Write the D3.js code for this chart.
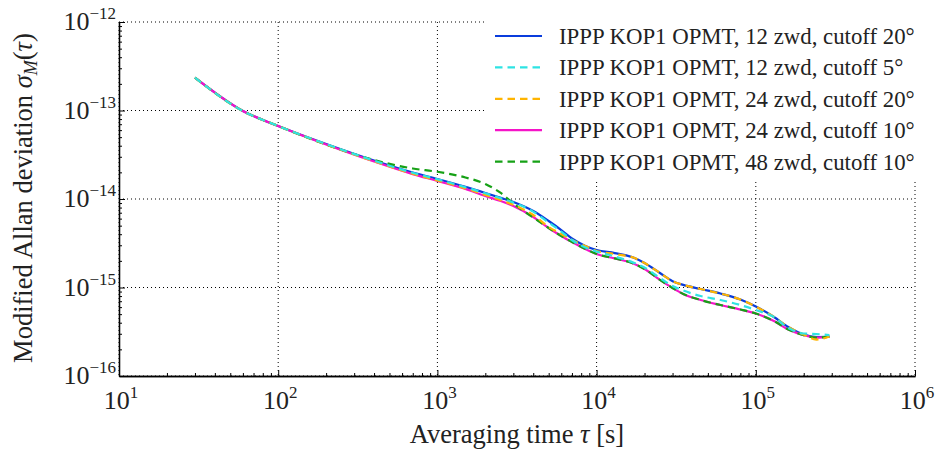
<!DOCTYPE html>
<html><head><meta charset="utf-8">
<script src="https://cdn.jsdelivr.net/npm/d3@7"></script>
<style>body{margin:0;background:#fff;} svg{display:block;}</style>
</head><body>
<svg id="chart" width="936" height="452" font-family="'Liberation Serif', 'DejaVu Serif', 'Times New Roman', serif"></svg>
<script>
const tau = [30, 60, 100, 200, 400, 700, 1000, 1500, 2000, 2500, 3000, 4000, 5000, 6000, 7000, 8500,
  10000, 13000, 17000, 20000, 25000, 30000, 35000, 45000, 60000, 80000, 100000, 130000, 160000, 200000, 240000, 290000];

const blue = [2.35e-13, 9.87e-14, 6.68e-14, 4.18e-14, 2.72e-14, 1.99e-14, 1.68e-14, 1.37e-14, 1.17e-14, 1.03e-14, 9.24e-15, 7.31e-15, 5.64e-15, 4.46e-15, 3.58e-15, 2.95e-15,
  2.65e-15, 2.45e-15, 2.18e-15, 1.89e-15, 1.46e-15, 1.18e-15, 1.07e-15, 9.61e-16, 8.55e-16, 7.31e-16, 6.09e-16, 4.64e-16, 3.58e-16, 2.94e-16, 2.76e-16, 2.79e-16];
const cyan = [2.35e-13, 9.87e-14, 6.68e-14, 4.17e-14, 2.71e-14, 1.98e-14, 1.67e-14, 1.36e-14, 1.16e-14, 1.02e-14, 9.15e-15, 7.20e-15, 5.42e-15, 4.29e-15, 3.44e-15, 2.83e-15,
  2.55e-15, 2.24e-15, 1.91e-15, 1.68e-15, 1.28e-15, 1.04e-15, 9.25e-16, 8.01e-16, 7.23e-16, 6.34e-16, 5.57e-16, 4.64e-16, 3.48e-16, 3.02e-16, 2.98e-16, 2.90e-16];
const orange = [2.35e-13, 9.87e-14, 6.68e-14, 4.14e-14, 2.67e-14, 1.93e-14, 1.62e-14, 1.32e-14, 1.11e-14, 9.70e-15, 8.60e-15, 6.59e-15, 4.83e-15, 4.03e-15, 3.44e-15, 2.95e-15,
  2.58e-15, 2.39e-15, 2.18e-15, 1.89e-15, 1.46e-15, 1.18e-15, 1.07e-15, 9.61e-16, 8.55e-16, 7.31e-16, 6.09e-16, 4.64e-16, 3.58e-16, 2.94e-16, 2.58e-16, 2.79e-16];
const magenta = [2.35e-13, 9.87e-14, 6.68e-14, 4.13e-14, 2.65e-14, 1.91e-14, 1.60e-14, 1.30e-14, 1.08e-14, 9.48e-15, 8.33e-15, 6.26e-15, 4.70e-15, 3.82e-15, 3.27e-15, 2.72e-15,
  2.39e-15, 2.13e-15, 1.87e-15, 1.62e-15, 1.22e-15, 9.87e-16, 8.45e-16, 7.23e-16, 6.34e-16, 5.64e-16, 5.08e-16, 4.18e-16, 3.35e-16, 2.90e-16, 2.72e-16, 2.79e-16];
const green = [2.35e-13, 9.87e-14, 6.68e-14, 4.13e-14, 2.76e-14, 2.21e-14, 2.03e-14, 1.75e-14, 1.48e-14, 1.17e-14, 8.89e-15, 6.18e-15, 4.70e-15, 3.82e-15, 3.27e-15, 2.72e-15,
  2.39e-15, 2.13e-15, 1.87e-15, 1.62e-15, 1.22e-15, 9.87e-16, 8.45e-16, 7.23e-16, 6.34e-16, 5.64e-16, 5.08e-16, 4.18e-16, 3.35e-16, 2.90e-16, 2.72e-16, 2.79e-16];

const seriesNames = ["IPPP KOP1 OPMT, 12 zwd, cutoff 20°", "IPPP KOP1 OPMT, 12 zwd, cutoff 5°", "IPPP KOP1 OPMT, 24 zwd, cutoff 20°",
  "IPPP KOP1 OPMT, 24 zwd, cutoff 10°", "IPPP KOP1 OPMT, 48 zwd, cutoff 10°"];
const xTickExps = [1, 2, 3, 4, 5, 6];
const yTickExps = [-16, -15, -14, -13, -12];

const series = [
  {name: seriesNames[0], values: blue, color: "#0a3cdc", dash: null},
  {name: seriesNames[1], values: cyan, color: "#2ee3e3", dash: "7.5,5"},
  {name: seriesNames[2], values: orange, color: "#ffb400", dash: "7.5,5"},
  {name: seriesNames[3], values: magenta, color: "#f514c8", dash: null},
  {name: seriesNames[4], values: green, color: "#16a116", dash: "7.5,5"}
];
const drawOrder = [0, 3, 4, 2, 1];

const svg = d3.select("#chart");
const L = 119, R = 915, T = 22, B = 376;
const x = d3.scaleLog().domain([10, 1e6]).range([L, R]);
const y = d3.scaleLog().domain([1e-16, 1e-12]).range([B, T]);

// grid
const grid = svg.append("g");
xTickExps.forEach(e => {
  grid.append("line").attr("x1", x(10 ** e)).attr("x2", x(10 ** e)).attr("y1", T).attr("y2", B)
    .attr("stroke", "#000").attr("stroke-width", 1).attr("stroke-dasharray", "1,3");
});
yTickExps.forEach(e => {
  grid.append("line").attr("x1", L).attr("x2", R).attr("y1", y(10 ** e)).attr("y2", y(10 ** e))
    .attr("stroke", "#000").attr("stroke-width", 1).attr("stroke-dasharray", "1,3");
});

// minor ticks
const xMinor = [], yMinor = [];
for (let e = 1; e < 6; e++) for (let m = 2; m <= 9; m++) xMinor.push(m * 10 ** e);
for (let e = -16; e < -12; e++) for (let m = 2; m <= 9; m++) yMinor.push(m * 10 ** e);

const xAxis = svg.append("g").attr("transform", `translate(0,${B})`)
  .call(d3.axisBottom(x).tickValues(xMinor).tickSizeInner(-3).tickSizeOuter(0).tickFormat(""));
const xAxisMaj = svg.append("g").attr("transform", `translate(0,${B})`)
  .call(d3.axisBottom(x).tickValues(xTickExps.map(e => 10 ** e)).tickSizeInner(-6).tickSizeOuter(0).tickFormat(""));
const yAxis = svg.append("g").attr("transform", `translate(${L},0)`)
  .call(d3.axisLeft(y).tickValues(yMinor).tickSizeInner(-3).tickSizeOuter(0).tickFormat(""));
const yAxisMaj = svg.append("g").attr("transform", `translate(${L},0)`)
  .call(d3.axisLeft(y).tickValues(yTickExps.map(e => 10 ** e)).tickSizeInner(-6).tickSizeOuter(0).tickFormat(""));
[xAxis, xAxisMaj, yAxis, yAxisMaj].forEach(g => {
  g.attr("font-family", null);
  g.selectAll("path.domain").attr("stroke", "#000").attr("stroke-width", 1.3);
  g.selectAll(".tick line").attr("stroke", "#000").attr("stroke-width", 1);
});

const FONT = "'Liberation Serif', 'DejaVu Serif', serif";

// tick labels
xTickExps.forEach(e => {
  const t = svg.append("text").attr("x", x(10 ** e) + 2).attr("y", 409).attr("text-anchor", "middle")
    .attr("font-family", FONT).attr("font-size", 26).attr("fill", "#222");
  t.append("tspan").text("10");
  t.append("tspan").attr("dy", -11).attr("font-size", 17).text(String(e));
});
yTickExps.forEach(e => {
  const t = svg.append("text").attr("x", 116).attr("y", y(10 ** e) + 8).attr("text-anchor", "end")
    .attr("font-family", FONT).attr("font-size", 26).attr("fill", "#222");
  t.append("tspan").text("10");
  t.append("tspan").attr("dy", -11).attr("font-size", 17).text("−" + String(-e));
});

// axis labels
const xl = svg.append("text").attr("x", 517).attr("y", 443).attr("text-anchor", "middle")
  .attr("font-family", FONT).attr("font-size", 26.5).attr("fill", "#222");
xl.append("tspan").text("Averaging time ");
xl.append("tspan").attr("font-style", "italic").text("τ");
xl.append("tspan").text(" [s]");

const yl = svg.append("text").attr("transform", "translate(32,198) rotate(-90)").attr("text-anchor", "middle")
  .attr("font-family", FONT).attr("font-size", 26.5).attr("fill", "#222");
yl.append("tspan").text("Modified Allan deviation ");
yl.append("tspan").attr("font-style", "italic").text("σ");
yl.append("tspan").attr("font-style", "italic").attr("font-size", 18).attr("dy", 5).text("M");
yl.append("tspan").attr("dy", -5).text("(");
yl.append("tspan").attr("font-style", "italic").text("τ");
yl.append("tspan").text(")");

// curves
const line = d3.line().x((d, i) => x(tau[i])).y(d => y(d)).curve(d3.curveMonotoneX);
const curves = svg.append("g");
drawOrder.forEach(k => {
  const s = series[k];
  curves.append("path").attr("d", line(s.values)).attr("fill", "none")
    .attr("stroke", s.color).attr("stroke-width", 2.2)
    .attr("stroke-dasharray", s.dash);
});

// legend
const lg = svg.append("g");
lg.append("rect").attr("x", 487).attr("y", 14).attr("width", 440).attr("height", 166).attr("fill", "#fff");
series.forEach((s, i) => {
  const yy = 36 + i * 31.4;
  lg.append("line").attr("x1", 495).attr("x2", 542).attr("y1", yy).attr("y2", yy)
    .attr("stroke", s.color).attr("stroke-width", 2.2).attr("stroke-dasharray", s.dash);
  lg.append("text").attr("x", 559).attr("y", yy + 8).attr("font-family", FONT).attr("font-size", 22.8)
    .attr("fill", "#222").text(s.name);
});
</script>
</body></html>
